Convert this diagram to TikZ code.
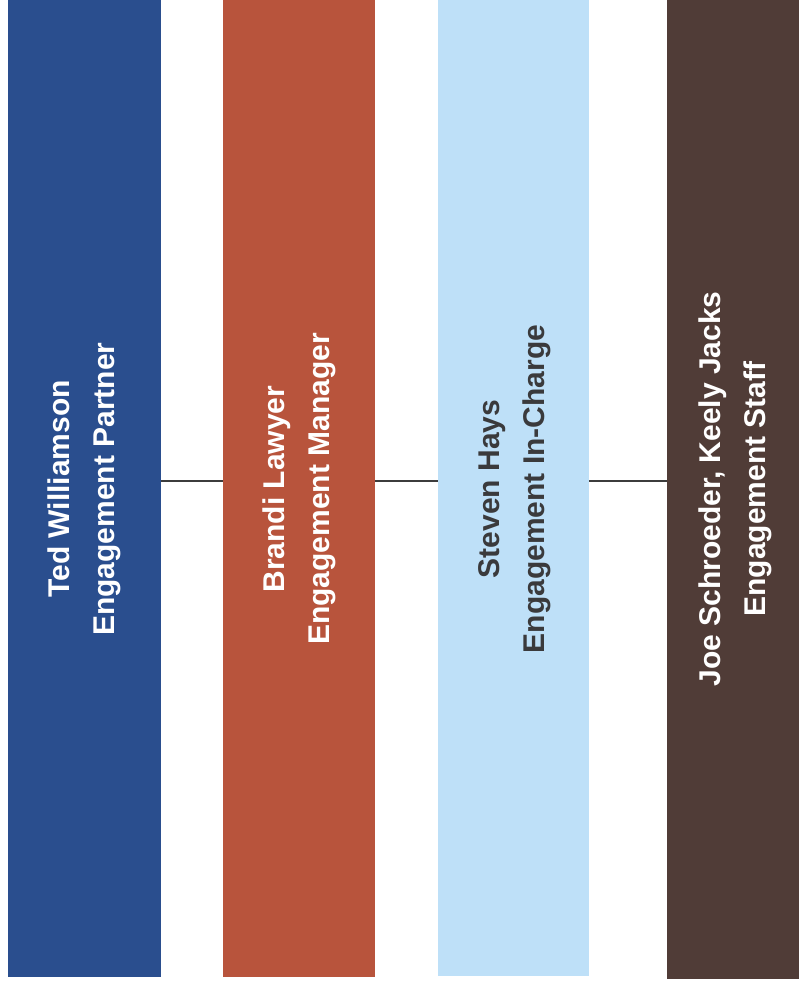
\documentclass[tikz,border=0pt]{standalone}
\usepackage{fontspec}
\setmainfont{Liberation Sans}
\definecolor{barblue}{RGB}{42,78,142}
\definecolor{barred}{RGB}{184,84,60}
\definecolor{barlight}{RGB}{190,224,248}
\definecolor{barbrown}{RGB}{80,60,55}
\definecolor{darktext}{RGB}{58,58,60}
\definecolor{linegray}{RGB}{60,60,60}
\begin{document}
\begin{tikzpicture}[x=1pt,y=1pt,
  bar/.style={draw=none,rectangle,inner sep=0pt,minimum height=977pt,anchor=north west},
  lbl/.style={rotate=90,align=center,inner sep=0pt,font=\bfseries\fontsize{30}{45}\selectfont},
  conn/.style={draw=linegray,line width=1.8pt}]
\useasboundingbox[fill=white] (0,0) rectangle (799,-982);
\node[bar,fill=barblue,minimum width=153pt] (b1) at (8,0) {};
\node[bar,fill=barred,minimum width=152pt] (b2) at (223,0) {};
\node[bar,fill=barlight,minimum width=151pt,minimum height=976pt] (b3) at (438,0) {};
\node[bar,fill=barbrown,minimum width=152pt,minimum height=979pt] (b4) at (667,0) {};
\node[lbl,text=white] (t1) at (84.5,-489) {Ted Williamson\\Engagement Partner};
\node[lbl,text=white] (t2) at (299.5,-489) {Brandi Lawyer\\Engagement Manager};
\node[lbl,text=darktext] (t3) at (514.5,-489) {Steven Hays\\Engagement In-Charge};
\node[lbl,text=white] (t4) at (735.5,-489) {Joe Schroeder, Keely Jacks\\Engagement Staff};
\coordinate (lv) at (0,-481);
\draw[conn] (b1.east |- lv) -- (b2.west |- lv);
\draw[conn] (b2.east |- lv) -- (b3.west |- lv);
\draw[conn] (b3.east |- lv) -- (b4.west |- lv);
\end{tikzpicture}
\end{document}
